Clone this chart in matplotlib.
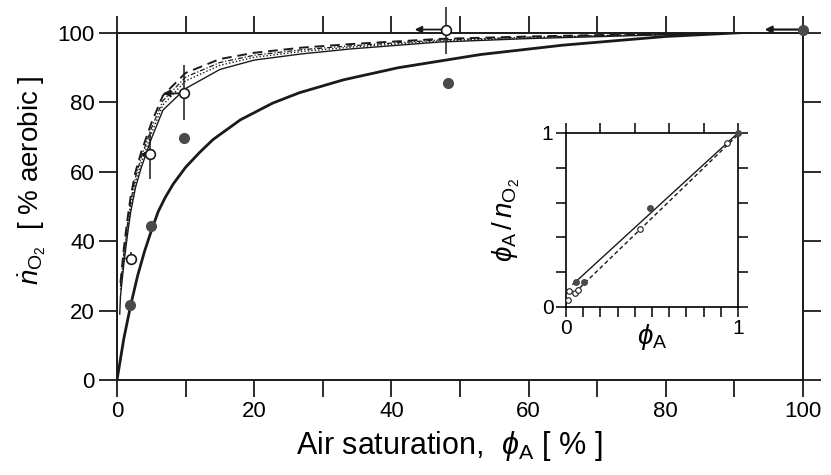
import matplotlib
matplotlib.use('Agg')
import matplotlib.pyplot as plt
from matplotlib.ticker import MultipleLocator, FixedLocator

plt.rcParams['font.family'] = ['Liberation Sans', 'DejaVu Sans']
plt.rcParams['mathtext.fontset'] = 'custom'
plt.rcParams['mathtext.rm'] = 'Liberation Sans'
plt.rcParams['mathtext.it'] = 'Liberation Sans:italic'

# measured points, main panel (air saturation %, n_O2 % aerobic)
open_x = [2.0, 4.8, 9.8, 48.0]
open_y = [35.0, 65.0, 82.6, 101.0]
open_err_lo = [2.0, 7.0, 7.7, 7.0]
open_err_hi = [2.0, 6.4, 8.1, 6.5]
arrow_to_x = [1.2, 3.4, 6.7, 43.4]   # arrows point left from open circles

filled_x = [1.9, 4.9, 9.8, 48.2, 100.0]
filled_y = [21.6, 44.5, 69.8, 85.5, 101.0]

# arrow at the 100 % point
end_arrow_x = [100.0, 94.4]
end_arrow_y = [101.0, 101.0]

# lower thick curve
low_x = [0, 0.5, 1, 2, 3, 4, 5, 6, 7, 8.2, 10, 12, 14, 18, 22.7, 26.6, 33, 41, 53, 65, 80, 100]
low_y = [0, 6, 12, 21.6, 30, 37, 43, 48.5, 52.5, 56.5, 61.3, 65.5, 69.3, 75, 79.8, 82.8, 86.5, 90,
         93.8, 96.5, 99, 101]

# upper family of curves
up_x = [0.5, 1.0, 1.5, 2.0, 2.7, 3.5, 5.0, 6.7, 10, 15, 20, 27, 34, 47, 60, 80, 100]
dash_y = [28, 38, 46, 53, 60, 65.5, 74, 82, 88.5, 92.5, 94.3, 95.8, 96.8, 98.3, 99.0, 99.8, 100.5]
dashdot_y = [27, 36.5, 44.5, 51.5, 58.5, 64, 72.5, 80.5, 87.3, 91.5, 93.6, 95.2, 96.3, 98.0, 98.8, 99.7, 100.5]
dot_y = [26, 35, 43, 50, 57, 62.5, 71, 79.3, 86.2, 90.7, 93.0, 94.7, 95.9, 97.7, 98.6, 99.6, 100.5]
thin_x = [0.4] + up_x
thin_y = [19, 24, 33.5, 41.5, 48.5, 55.5, 61, 69.5, 77.8, 84.0, 89.5, 92.2, 94.0, 95.4, 97.4, 98.4, 99.5, 100.5]

# inset: phi_A vs phi_A / n_O2
ins_open_x = [0.01, 0.02, 0.05, 0.07, 0.43, 0.934]
ins_open_y = [0.04, 0.09, 0.08, 0.10, 0.45, 0.94]
ins_filled_x = [0.06, 0.105, 0.49, 1.0]
ins_filled_y = [0.145, 0.145, 0.567, 1.0]
ins_solid_x = [0.04, 1.0]
ins_solid_y = [0.13, 1.0]
ins_dash_x = [0.08, 1.0]
ins_dash_y = [0.11, 0.99]

fig = plt.figure(figsize=(8.31, 4.75), dpi=100)
ax = fig.add_axes([0.1408, 0.2, 0.8255, 0.7305])

ax.plot(low_x, low_y, color='#1a1a1a', lw=2.0)
ax.plot(up_x, dash_y, color='#1a1a1a', lw=1.4, ls=(0, (5, 3)))
ax.plot(up_x, dashdot_y, color='#1a1a1a', lw=0.9, ls=(0, (4, 1.5, 1, 1.5)))
ax.plot(up_x, dot_y, color='#1a1a1a', lw=1.0, ls=(0, (1, 1.5)))
ax.plot(thin_x, thin_y, color='#1a1a1a', lw=1.0)

ax.errorbar(open_x, open_y, yerr=[open_err_lo, open_err_hi], fmt='none',
            ecolor='#1a1a1a', elinewidth=1.1, capsize=0, clip_on=False, zorder=4)
for x0, y0, x1 in zip(open_x, open_y, arrow_to_x):
    ax.annotate('', xy=(x1, y0), xytext=(x0, y0),
                arrowprops=dict(arrowstyle='-|>', color='#1a1a1a', lw=1.3,
                                mutation_scale=10, shrinkA=3, shrinkB=0),
                annotation_clip=False, zorder=5)
ax.annotate('', xy=(end_arrow_x[1], end_arrow_y[1]), xytext=(end_arrow_x[0], end_arrow_y[0]),
            arrowprops=dict(arrowstyle='-|>', color='#1a1a1a', lw=1.6,
                            mutation_scale=10, shrinkA=0, shrinkB=0),
            annotation_clip=False, zorder=5)

ax.plot(filled_x, filled_y, 'o', color='#4a4a4a', ms=7, clip_on=False, zorder=6)
ax.plot(open_x, open_y, 'o', mfc='white', mec='#1a1a1a', mew=1.2, ms=7,
        clip_on=False, zorder=7)

ax.set_xlim(0, 100)
ax.set_ylim(0, 100)
ax.xaxis.set_major_locator(MultipleLocator(20))
ax.xaxis.set_minor_locator(MultipleLocator(10))
ax.yaxis.set_major_locator(MultipleLocator(20))
ax.tick_params(which='both', direction='out', length=12, width=1.3,
               top=True, right=True, labelsize=16, pad=3, color='#1a1a1a')
ax.tick_params(axis='y', which='both', length=13)
for s in ax.spines.values():
    s.set_linewidth(1.4)
    s.set_color('#1a1a1a')

ax.set_xlabel(r'Air saturation,  $\phi_\mathrm{A}$ [ % ]', fontsize=22)
ax.xaxis.set_label_coords(0.485, -0.14)
ax.set_ylabel(r'$\dot{n}_{\mathrm{O_2}}$  [ % aerobic ]', fontsize=20)
ax.yaxis.set_label_coords(-0.10, 0.575)

# inset
ins = fig.add_axes([0.6811, 0.3537, 0.207, 0.3663])
ins.plot(ins_solid_x, ins_solid_y, color='#1a1a1a', lw=1.0)
ins.plot(ins_dash_x, ins_dash_y, color='#1a1a1a', lw=1.0, ls=(0, (3, 2)))
ins.plot(ins_filled_x, ins_filled_y, 'o', color='#4a4a4a', ms=4, clip_on=False, zorder=5)
ins.plot(ins_open_x, ins_open_y, 'o', mfc='white', mec='#1a1a1a', mew=0.8, ms=4,
         clip_on=False, zorder=6)
ins.set_xlim(0, 1)
ins.set_ylim(0, 1)
ins.set_xticks([0, 1])
ins.set_yticks([0, 1])
ins.xaxis.set_minor_locator(MultipleLocator(0.1))
ins.yaxis.set_minor_locator(MultipleLocator(0.2))
ins.tick_params(which='both', direction='out', length=7, width=1.1,
                top=True, right=True, labelsize=15, pad=2)
ins.tick_params(axis='x', which='minor', top=False)
ins_top = ins.secondary_xaxis('top')
ins_top.xaxis.set_major_locator(FixedLocator([0.2, 0.4, 0.6, 0.8]))
ins_top.tick_params(direction='out', length=7, width=1.1, labeltop=False)
ins_top.spines['top'].set_visible(False)
for s in ins.spines.values():
    s.set_linewidth(1.2)
ins.set_xlabel(r'$\phi_\mathrm{A}$', fontsize=20, labelpad=-12)
ins.set_ylabel(r'$\phi_\mathrm{A}\,/\,n_{\mathrm{O_2}}$', fontsize=20, labelpad=14)

fig.savefig('out.png', dpi=100)
